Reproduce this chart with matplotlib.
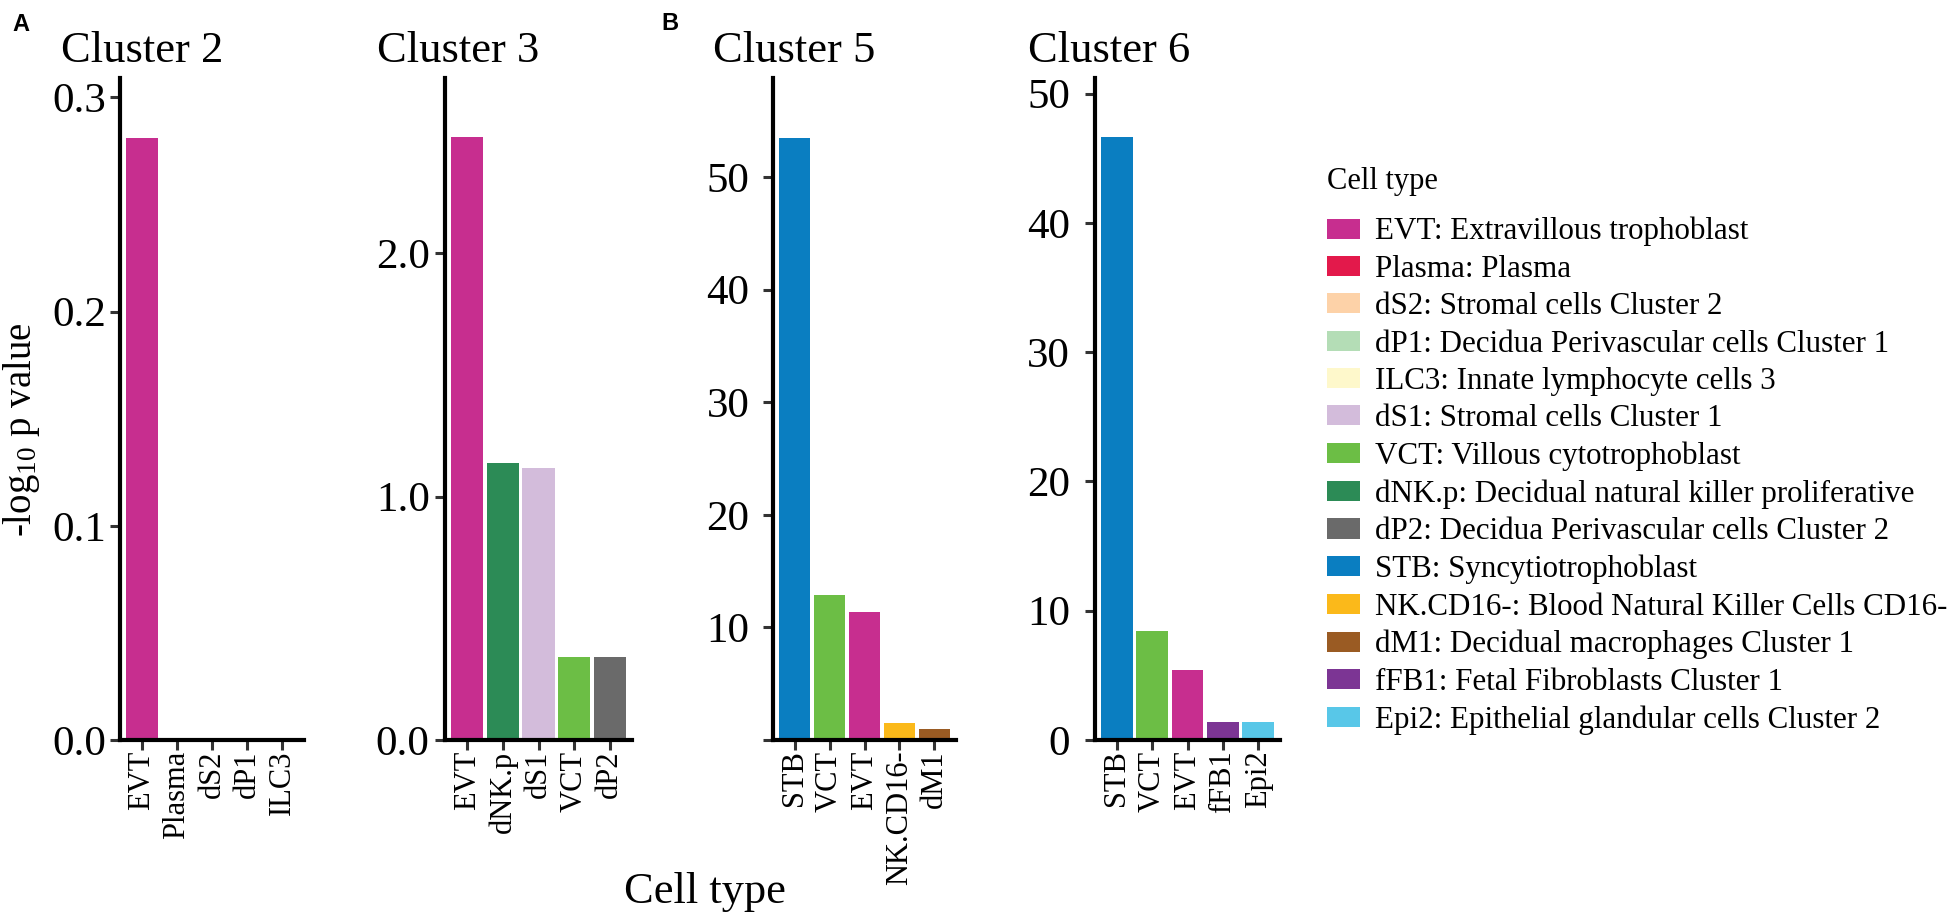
import matplotlib
matplotlib.use("Agg")
import matplotlib.pyplot as plt
from matplotlib.patches import Patch

plt.rcParams['font.family'] = ['Liberation Serif', 'DejaVu Serif']
plt.rcParams['mathtext.fontset'] = 'custom'
plt.rcParams['mathtext.rm'] = 'Liberation Serif'

# data
c2_types = ['EVT', 'Plasma', 'dS2', 'dP1', 'ILC3']
c2_vals = [0.281, 0, 0, 0, 0]
c3_types = ['EVT', 'dNK.p', 'dS1', 'VCT', 'dP2']
c3_vals = [2.476, 1.138, 1.117, 0.341, 0.341]
c5_types = ['STB', 'VCT', 'EVT', 'NK.CD16-', 'dM1']
c5_vals = [53.5, 12.9, 11.4, 1.5, 1.0]
c6_types = ['STB', 'VCT', 'EVT', 'fFB1', 'Epi2']
c6_vals = [46.6, 8.45, 5.43, 1.4, 1.4]

legend_types = ['EVT', 'Plasma', 'dS2', 'dP1', 'ILC3', 'dS1', 'VCT', 'dNK.p',
                'dP2', 'STB', 'NK.CD16-', 'dM1', 'fFB1', 'Epi2']
legend_names = ['Extravillous trophoblast', 'Plasma', 'Stromal cells Cluster 2',
                'Decidua Perivascular cells Cluster 1', 'Innate lymphocyte cells 3',
                'Stromal cells Cluster 1', 'Villous cytotrophoblast',
                'Decidual natural killer proliferative',
                'Decidua Perivascular cells Cluster 2', 'Syncytiotrophoblast',
                'Blood Natural Killer Cells CD16-', 'Decidual macrophages Cluster 1',
                'Fetal Fibroblasts Cluster 1', 'Epithelial glandular cells Cluster 2']
colors = {'EVT': '#C72E8F', 'Plasma': '#E3194B', 'dS2': '#FDD2A8', 'dP1': '#B4DDB6',
          'ILC3': '#FEF8CB', 'dS1': '#D3BCDB', 'VCT': '#6CBE45', 'dNK.p': '#2C8B56',
          'dP2': '#6A6A6A', 'STB': '#0A7EC1', 'NK.CD16-': '#FBB91A', 'dM1': '#9A5B23',
          'fFB1': '#7C3594', 'Epi2': '#58C7E8'}

W, H = 1955, 918
fig = plt.figure(figsize=(W / 100, H / 100), dpi=100)

bottom = (H - 740) / H
height = (740 - 78) / H

panels = [
    ('Cluster 2', c2_types, c2_vals, 120, 184, 61, 0.309, [0, 0.1, 0.2, 0.3], ['0.0', '0.1', '0.2', '0.3'], 3),
    ('Cluster 3', c3_types, c3_vals, 445, 187, 377, 2.72, [0, 1, 2], ['0.0', '1.0', '2.0'], 4),
    ('Cluster 5', c5_types, c5_vals, 773, 183, 713, 58.8, [0, 10, 20, 30, 40, 50], ['', '10', '20', '30', '40', '50'], 10),
    ('Cluster 6', c6_types, c6_vals, 1095, 185, 1028, 51.2, [0, 10, 20, 30, 40, 50], ['0', '10', '20', '30', '40', '50'], 11),
]

for title, types, vals, left, width, tleft, ytop, yt, ytl, ypad in panels:
    ax = fig.add_axes([left / W, bottom, width / W, height])
    x = list(range(len(types)))
    ax.bar(x, vals, width=0.9, color=[colors[t] for t in types], linewidth=0)
    ax.set_xlim(-0.62, len(types) - 1 + 0.62)
    ax.set_ylim(0, ytop)
    ax.set_xticks(x)
    ax.set_xticklabels(types, rotation=90, fontsize=22)
    ax.set_yticks(yt)
    ax.set_yticklabels(ytl, fontsize=31)
    ax.tick_params(axis='x', length=7, width=2.2, color='#333333', pad=0.5)
    ax.tick_params(axis='y', length=7, width=2.2, color='#333333', pad=ypad)
    for s in ['top', 'right']:
        ax.spines[s].set_visible(False)
    for s in ['left', 'bottom']:
        ax.spines[s].set_linewidth(3.0)
        ax.spines[s].set_color('black')
        ax.spines[s].set_capstyle('projecting')
    fig.text(tleft / W, 1 - 62 / H, title, fontsize=32, ha='left', va='baseline')

fig.text(12 / W, 1 - 31 / H, 'A', fontsize=17, fontweight='bold',
         family=['Liberation Sans', 'DejaVu Sans'], ha='left', va='baseline')
fig.text(661 / W, 1 - 30 / H, 'B', fontsize=17, fontweight='bold',
         family=['Liberation Sans', 'DejaVu Sans'], ha='left', va='baseline')

fig.text(705 / W, 1 - 903 / H, 'Cell type', fontsize=32, ha='center', va='baseline')
fig.text(22 / W, 1 - 430 / H, r'-log$\mathregular{_{10}}$ p value', fontsize=28,
         rotation=90, ha='center', va='center')

# legend
fig.text(1327 / W, 1 - 182 / H, 'Cell type', fontsize=22, ha='left', va='center')
handles = [Patch(facecolor=colors[t], edgecolor='none') for t in legend_types]
labels = [t + ': ' + n for t, n in zip(legend_types, legend_names)]
fig.legend(handles, labels, loc='upper left', bbox_to_anchor=(1327 / W, 1 - 217 / H),
           frameon=False, fontsize=22.3, handlelength=1.05, handleheight=0.62,
           handletextpad=0.5, labelspacing=0.27, borderpad=0, borderaxespad=0)

fig.savefig('out.png', dpi=100)
